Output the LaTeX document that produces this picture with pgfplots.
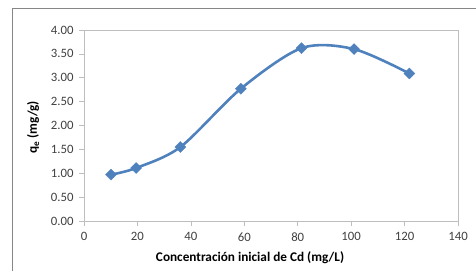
\documentclass[border=0pt]{standalone}
\usepackage{pgfplots}
\pgfplotsset{compat=1.18}
\usepackage{fontspec}
\setmainfont{Carlito}
\definecolor{ser}{RGB}{79,129,189}
\definecolor{axg}{RGB}{190,190,190}
\definecolor{brd}{RGB}{134,134,134}
\definecolor{txt}{RGB}{64,64,64}
\begin{document}
\begin{tikzpicture}[x=1bp,y=1bp]
\useasboundingbox (0,0) rectangle (476,271);
\draw[brd, line width=0.8bp] (12,0) -- (12,263) -- (476,263);
\begin{axis}[
  at={(84bp,50bp)}, anchor=south west,
  scale only axis, width=374bp, height=191bp,
  xmin=0, xmax=140, ymin=0, ymax=4,
  xtick={0,20,...,140},
  ytick={0,0.5,...,4},
  yticklabel style={/pgf/number format/fixed, /pgf/number format/fixed zerofill, /pgf/number format/precision=2, xshift=-2bp},
  /pgf/number format/assume math mode=true,
  tick align=outside, tick pos=left,
  major tick length=5bp,
  axis line style={axg},
  every tick/.style={axg, line width=0.6bp},
  tick label style={font=\fontsize{12.8}{14}\selectfont, text=txt},
  xticklabel style={yshift=-3bp},
  axis lines=box,
  xlabel={\textbf{Concentración inicial de Cd (mg/L)}},
  ylabel={\textbf{q\textsubscript{e} (mg/g)}},
  every axis x label/.style={at={(axis description cs:0.444,-0.19)}, anchor=center, font=\fontsize{13.3}{15}\selectfont, text=black},
  every axis y label/.style={at={(axis description cs:-0.136,0.49)}, anchor=center, rotate=90, font=\fontsize{13.3}{15}\selectfont, text=black},
  clip=false,
]
\addplot[ser, line width=2.6bp, smooth, tension=0.5, mark=square*, mark size=3.9bp, mark options={fill=ser, draw=ser, line width=0.3bp, rotate=45}]
coordinates {(10.1,0.97) (19.5,1.11) (36.1,1.55) (58.7,2.77) (81.4,3.62) (101.1,3.60) (121.8,3.09)};
\end{axis}
\end{tikzpicture}
\end{document}
